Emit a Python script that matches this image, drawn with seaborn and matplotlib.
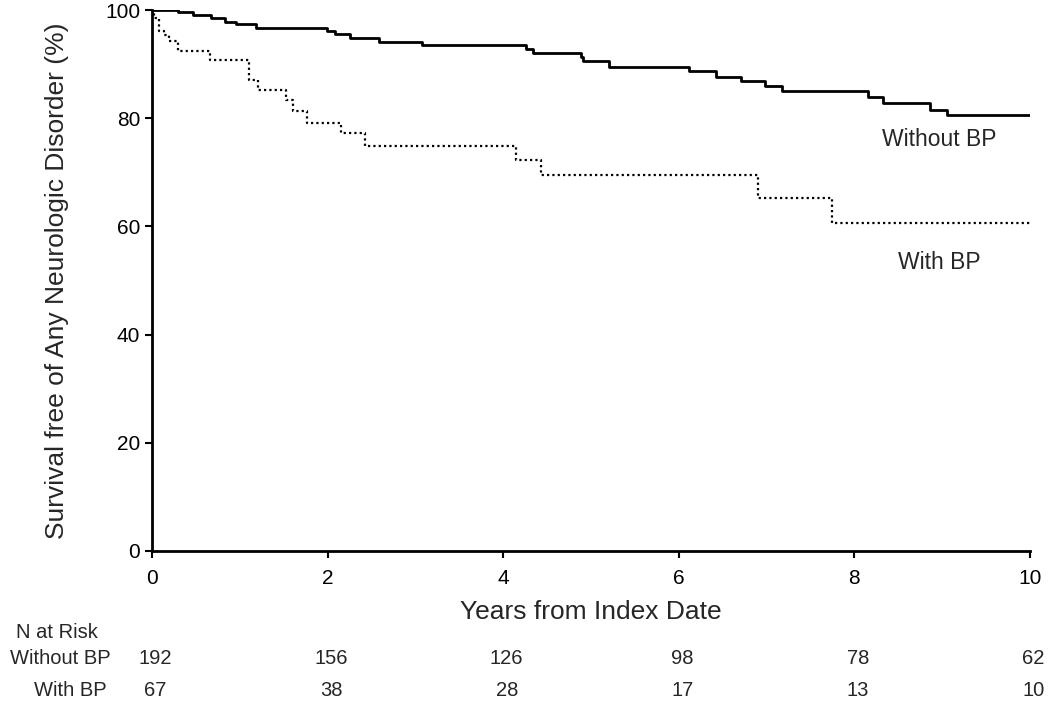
import pandas as pd
import matplotlib
matplotlib.use('Agg')
import matplotlib.pyplot as plt
import seaborn as sns

# Tempos (anos) e sobrevida (%) - degraus
sem_bp_t = [0, 0.30, 0.47, 0.67, 0.83, 0.96, 1.18, 1.99, 2.08, 2.25, 2.59, 3.08,
            4.26, 4.34, 4.89, 4.91, 5.21, 6.12, 6.42, 6.71, 6.98, 7.17, 8.15,
            8.33, 8.86, 9.05, 10.0]
sem_bp_s = [100, 99.7, 99.0, 98.5, 97.8, 97.4, 96.7, 96.1, 95.5, 94.9, 94.1, 93.6,
            92.7, 92.1, 91.3, 90.5, 89.5, 88.7, 87.7, 86.9, 86.0, 85.0, 84.0,
            82.9, 81.6, 80.5, 80.5]

com_bp_t = [0, 0.02, 0.08, 0.14, 0.19, 0.30, 0.66, 1.10, 1.21, 1.53, 1.61, 1.77,
            2.15, 2.43, 4.15, 4.43, 6.90, 7.74, 10.0]
com_bp_s = [100, 98.5, 96.2, 95.3, 94.2, 92.4, 90.8, 87.1, 85.2, 83.4, 81.3, 79.2,
            77.2, 74.9, 72.3, 69.5, 65.3, 60.6, 60.6]

# Numero em risco
risco_anos = [0, 2, 4, 6, 8, 10]
risco_sem_bp = [192, 156, 126, 98, 78, 62]
risco_com_bp = [67, 38, 28, 17, 13, 10]

sns.set_style('white')
plt.rcParams['font.family'] = ['Liberation Sans', 'DejaVu Sans']

df_sem = pd.DataFrame({'Anos': sem_bp_t, 'Sobrevida': sem_bp_s})
df_com = pd.DataFrame({'Anos': com_bp_t, 'Sobrevida': com_bp_s})

fig = plt.figure(figsize=(10.5, 7.07), dpi=100)
ax = fig.add_axes([152 / 1050, 1 - 551 / 707, (1030 - 152) / 1050, (551 - 10) / 707])

sns.lineplot(data=df_sem, x='Anos', y='Sobrevida', ax=ax, color='black',
             linewidth=2, drawstyle='steps-post')
sns.lineplot(data=df_com, x='Anos', y='Sobrevida', ax=ax, color='black',
             linewidth=1.6, linestyle=(0, (1, 1.4)), drawstyle='steps-post')

ax.set_xlim(0, 10)
ax.set_ylim(0, 100)
ax.set_xticks(risco_anos)
ax.set_yticks([0, 20, 40, 60, 80, 100])
ax.tick_params(axis='both', direction='out', length=5, width=1.5, colors='black',
               labelsize=15, left=True, bottom=True)
ax.tick_params(axis='x', pad=8)
for lado in ['top', 'right']:
    ax.spines[lado].set_visible(False)
for lado in ['left', 'bottom']:
    ax.spines[lado].set_linewidth(2)
    ax.spines[lado].set_color('black')

ax.set_xlabel('Years from Index Date', fontsize=19)
ax.set_ylabel('Survival free of Any Neurologic Disorder (%)', fontsize=19)
ax.xaxis.set_label_coords(0.5, (551 - 612) / 541)
ax.yaxis.set_label_coords((57 - 152) / 878, 0.5)
ax.xaxis.label.set_va('center')
ax.yaxis.label.set_va('center')

ax.text(8.97, 76.0, 'Without BP', fontsize=16.5, ha='center', va='center')
ax.text(8.97, 53.4, 'With BP', fontsize=16.5, ha='center', va='center')

# Tabela de numero em risco
trans = ax.get_xaxis_transform()
fig.text(57 / 1050, 1 - 633 / 707, 'N at Risk', fontsize=14.5, ha='center', va='center')
fig.text(60 / 1050, 1 - 659 / 707, 'Without BP', fontsize=14.5, ha='center', va='center')
fig.text(70 / 1050, 1 - 690 / 707, 'With BP', fontsize=14.5, ha='center', va='center')
y_sem = (551 - 659) / 541
y_com = (551 - 690) / 541
for ano, n1, n2 in zip(risco_anos, risco_sem_bp, risco_com_bp):
    ax.text(ano + 0.04, y_sem, str(n1), transform=trans, fontsize=14.5, ha='center', va='center')
    ax.text(ano + 0.04, y_com, str(n2), transform=trans, fontsize=14.5, ha='center', va='center')

fig.savefig('out.png', dpi=100)
